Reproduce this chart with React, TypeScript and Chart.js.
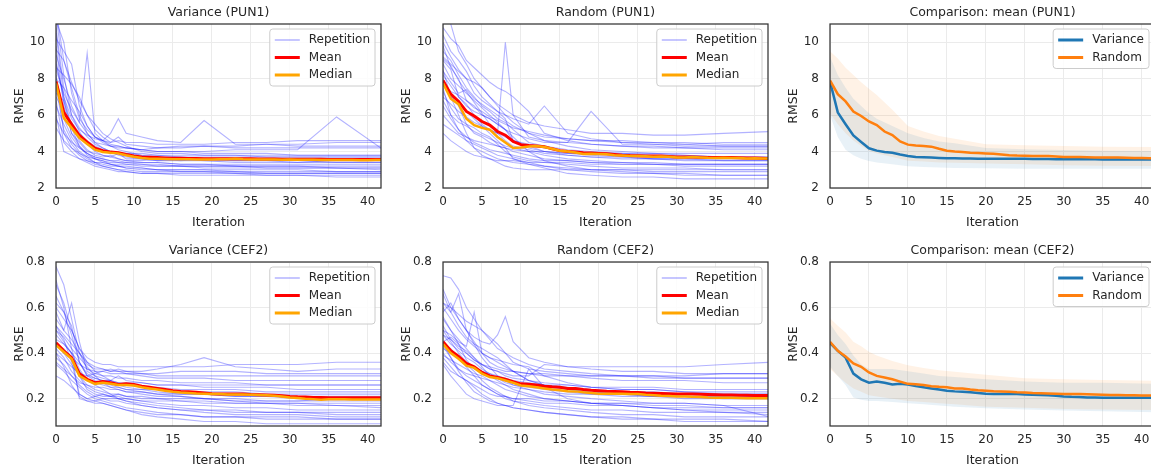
import React, { useEffect, useRef } from "react";
import { Chart, registerables } from "chart.js";

Chart.register(...registerables);

const FONT = '"DejaVu Sans", sans-serif';
const TEXT = "#262626";

const ITERATIONS = [0, 1, 2, 3, 4, 5, 6, 7, 8, 9, 10, 11, 12, 13, 14, 15, 16, 17, 18, 19, 20, 21, 22, 23, 24, 25, 26, 27, 28, 29, 30, 31, 32, 33, 34, 35, 36, 37, 38, 39, 40, 41, 42];
const REP_X = [0, 1, 2, 3, 4, 5, 6, 7, 8, 9, 11, 13, 16, 19, 23, 27, 31, 36, 42];
const BAND_X = [0, 1, 2, 3, 4, 5, 6, 8, 10, 12, 14, 16, 20, 25, 30, 35, 42];
const X_TICKS = [0, 5, 10, 15, 20, 25, 30, 35, 40];
const Y_TICKS_PUN1 = [2, 4, 6, 8, 10];
const Y_TICKS_CEF2 = [0.2, 0.4, 0.6, 0.8];

// ---------- means / medians ----------
const PUN1_VAR_MEAN = [7.85, 6.15, 5.5, 4.88, 4.52, 4.18, 4.05, 3.97, 3.93, 3.84, 3.76, 3.7, 3.69, 3.67, 3.65, 3.63, 3.63, 3.62, 3.62, 3.61, 3.61, 3.6, 3.61, 3.6, 3.6, 3.6, 3.59, 3.59, 3.59, 3.58, 3.58, 3.58, 3.58, 3.58, 3.58, 3.57, 3.57, 3.57, 3.57, 3.57, 3.56, 3.57, 3.57];
const PUN1_VAR_MEDIAN = [7.75, 5.85, 5.3, 4.75, 4.42, 4.1, 3.98, 3.93, 3.9, 3.8, 3.72, 3.65, 3.6, 3.6, 3.59, 3.58, 3.58, 3.58, 3.57, 3.57, 3.57, 3.58, 3.58, 3.6, 3.58, 3.57, 3.57, 3.56, 3.56, 3.55, 3.56, 3.55, 3.55, 3.55, 3.54, 3.53, 3.53, 3.53, 3.53, 3.52, 3.52, 3.53, 3.53];
const PUN1_RAND_MEAN = [7.9, 7.15, 6.75, 6.2, 5.95, 5.65, 5.45, 5.1, 4.9, 4.55, 4.38, 4.33, 4.3, 4.27, 4.15, 4.05, 4.0, 3.97, 3.93, 3.92, 3.9, 3.88, 3.84, 3.8, 3.78, 3.77, 3.76, 3.75, 3.75, 3.73, 3.7, 3.7, 3.7, 3.69, 3.68, 3.67, 3.67, 3.67, 3.66, 3.65, 3.64, 3.63, 3.62];
const PUN1_RAND_MEDIAN = [7.75, 6.9, 6.6, 5.8, 5.45, 5.3, 5.2, 4.8, 4.5, 4.2, 4.22, 4.28, 4.3, 4.25, 4.15, 4.05, 4.0, 3.95, 3.87, 3.88, 3.87, 3.85, 3.8, 3.78, 3.76, 3.75, 3.74, 3.72, 3.73, 3.72, 3.68, 3.68, 3.7, 3.68, 3.66, 3.65, 3.66, 3.65, 3.64, 3.62, 3.63, 3.62, 3.62];
const CEF2_VAR_MEAN = [0.445, 0.41, 0.38, 0.31, 0.285, 0.27, 0.275, 0.27, 0.262, 0.265, 0.262, 0.255, 0.25, 0.245, 0.24, 0.235, 0.232, 0.23, 0.228, 0.225, 0.222, 0.221, 0.22, 0.22, 0.22, 0.218, 0.217, 0.216, 0.215, 0.213, 0.21, 0.208, 0.207, 0.205, 0.205, 0.204, 0.204, 0.204, 0.204, 0.204, 0.204, 0.204, 0.204];
const CEF2_VAR_MEDIAN = [0.435, 0.405, 0.375, 0.3, 0.28, 0.265, 0.27, 0.265, 0.26, 0.26, 0.258, 0.25, 0.245, 0.24, 0.235, 0.23, 0.227, 0.225, 0.223, 0.222, 0.22, 0.22, 0.218, 0.218, 0.218, 0.217, 0.216, 0.215, 0.213, 0.21, 0.205, 0.203, 0.2, 0.198, 0.195, 0.197, 0.197, 0.197, 0.196, 0.196, 0.196, 0.196, 0.196];
const CEF2_RAND_MEAN = [0.45, 0.41, 0.385, 0.355, 0.34, 0.315, 0.3, 0.293, 0.285, 0.275, 0.265, 0.263, 0.26, 0.255, 0.252, 0.25, 0.245, 0.245, 0.24, 0.237, 0.235, 0.233, 0.232, 0.23, 0.228, 0.227, 0.225, 0.224, 0.223, 0.222, 0.221, 0.22, 0.22, 0.219, 0.218, 0.217, 0.216, 0.216, 0.215, 0.215, 0.214, 0.214, 0.214];
const CEF2_RAND_MEDIAN = [0.44, 0.4, 0.375, 0.345, 0.335, 0.31, 0.295, 0.29, 0.28, 0.27, 0.258, 0.255, 0.25, 0.245, 0.24, 0.237, 0.233, 0.232, 0.228, 0.225, 0.222, 0.222, 0.222, 0.222, 0.22, 0.22, 0.217, 0.215, 0.213, 0.212, 0.21, 0.21, 0.208, 0.207, 0.205, 0.204, 0.204, 0.204, 0.203, 0.202, 0.202, 0.202, 0.202];

// ---------- spread bands (comparison panels) ----------
const PUN1_VAR_UPPER = [9.2, 8.2, 7.5, 6.9, 6.5, 6.1, 5.8, 5.4, 5.0, 4.75, 4.55, 4.45, 4.2, 4.12, 4.08, 4.05, 4.03];
const PUN1_VAR_LOWER = [6.0, 4.8, 4.1, 3.8, 3.6, 3.48, 3.4, 3.3, 3.2, 3.15, 3.12, 3.1, 3.08, 3.06, 3.05, 3.05, 3.05];
const PUN1_RAND_UPPER = [9.5, 9.1, 8.6, 8.2, 7.8, 7.45, 7.1, 6.3, 5.4, 5.1, 4.85, 4.7, 4.4, 4.35, 4.3, 4.27, 4.25];
const PUN1_RAND_LOWER = [6.1, 5.5, 5.0, 4.6, 4.3, 4.05, 3.9, 3.7, 3.5, 3.45, 3.4, 3.38, 3.35, 3.3, 3.25, 3.22, 3.2];
const CEF2_VAR_UPPER = [0.53, 0.48, 0.44, 0.39, 0.35, 0.33, 0.33, 0.33, 0.32, 0.31, 0.3, 0.295, 0.285, 0.275, 0.27, 0.27, 0.265];
const CEF2_VAR_LOWER = [0.34, 0.3, 0.26, 0.205, 0.195, 0.19, 0.19, 0.185, 0.18, 0.175, 0.17, 0.165, 0.158, 0.152, 0.148, 0.145, 0.14];
const CEF2_RAND_UPPER = [0.553, 0.52, 0.49, 0.45, 0.43, 0.406, 0.39, 0.365, 0.347, 0.335, 0.325, 0.318, 0.305, 0.29, 0.285, 0.282, 0.278];
const CEF2_RAND_LOWER = [0.33, 0.3, 0.27, 0.245, 0.23, 0.215, 0.21, 0.2, 0.19, 0.185, 0.18, 0.175, 0.165, 0.16, 0.155, 0.152, 0.15];

// ---------- repetitions (values at REP_X) ----------
const PUN1_VAR_REPS = [
  [11.5, 8.2, 6.0, 5.1, 4.4, 4.0, 3.8, 3.7, 3.6, 3.5, 3.4, 3.4, 3.3, 3.3, 3.2, 3.2, 3.2, 3.1, 3.1],
  [9.8, 6.5, 5.0, 4.3, 3.9, 3.6, 3.4, 3.3, 3.2, 3.1, 3.0, 3.0, 2.9, 2.9, 2.9, 2.8, 2.8, 2.8, 2.8],
  [7.5, 5.2, 4.4, 3.9, 3.6, 3.4, 3.3, 3.2, 3.2, 3.1, 3.1, 3.0, 3.0, 3.0, 3.0, 3.0, 3.0, 2.9, 2.9],
  [10.2, 9.5, 8.8, 6.5, 5.4, 4.8, 4.5, 4.3, 4.2, 4.2, 4.1, 4.0, 4.0, 3.9, 3.9, 3.9, 3.8, 3.8, 3.8],
  [6.0, 4.0, 3.8, 3.6, 3.5, 3.4, 3.4, 3.3, 3.3, 3.3, 3.2, 3.2, 3.2, 3.2, 3.2, 3.1, 3.1, 3.1, 3.1],
  [8.8, 7.0, 5.8, 5.2, 4.9, 4.7, 4.6, 4.5, 4.6, 4.5, 4.5, 4.4, 4.4, 4.4, 4.5, 4.5, 4.6, 4.6, 4.6],
  [8.5, 7.2, 6.3, 5.6, 9.4, 5.0, 4.6, 4.3, 4.1, 4.0, 3.8, 3.7, 3.7, 3.6, 3.6, 3.6, 3.6, 3.5, 3.5],
  [5.3, 4.6, 4.2, 3.9, 3.7, 3.6, 3.5, 3.4, 3.4, 3.3, 3.3, 3.2, 3.2, 3.1, 3.1, 3.1, 3.1, 3.1, 3.0],
  [7.0, 6.2, 5.6, 5.0, 4.6, 4.3, 4.1, 4.0, 3.9, 3.9, 3.8, 3.8, 3.7, 3.7, 3.7, 3.7, 3.7, 3.7, 3.7],
  [10.8, 7.5, 6.0, 5.3, 4.8, 4.4, 4.2, 4.0, 3.8, 3.7, 3.6, 3.5, 3.5, 3.5, 3.4, 3.4, 3.4, 3.4, 3.4],
  [6.5, 5.5, 4.6, 4.0, 3.7, 3.4, 3.2, 3.1, 3.0, 2.9, 2.8, 2.8, 2.7, 2.7, 2.7, 2.7, 2.7, 2.6, 2.6],
  [8.0, 7.5, 6.8, 6.2, 5.4, 4.8, 4.6, 5.0, 5.8, 5.0, 4.8, 4.6, 4.5, 5.7, 4.4, 4.4, 4.3, 4.3, 4.3],
  [9.3, 8.0, 6.5, 5.6, 5.0, 4.5, 4.2, 4.0, 3.9, 3.9, 3.9, 3.8, 3.8, 3.8, 3.8, 3.8, 3.8, 3.8, 3.8],
  [7.8, 5.8, 4.8, 4.2, 3.9, 3.7, 3.6, 3.5, 3.5, 3.4, 3.4, 3.4, 3.3, 3.3, 3.3, 3.3, 3.3, 3.3, 3.3],
  [11.2, 10.0, 7.2, 5.8, 5.2, 4.8, 4.6, 4.4, 4.3, 4.2, 4.1, 4.0, 4.0, 4.0, 4.1, 4.1, 4.1, 5.9, 4.1],
  [6.8, 4.5, 4.0, 3.6, 3.4, 3.2, 3.1, 3.0, 2.9, 2.9, 2.8, 2.8, 2.8, 2.8, 2.8, 2.7, 2.7, 2.7, 2.7],
  [10.5, 7.0, 5.4, 4.6, 4.1, 3.8, 3.7, 3.8, 3.6, 3.5, 3.5, 3.6, 3.5, 3.6, 3.5, 3.5, 3.5, 3.4, 3.4],
  [8.2, 5.0, 4.2, 3.8, 3.5, 3.3, 3.2, 3.1, 3.0, 3.0, 2.9, 2.9, 2.9, 2.9, 2.8, 2.8, 2.8, 2.8, 2.8],
  [9.6, 9.0, 7.5, 6.0, 5.0, 4.5, 4.4, 4.3, 4.3, 4.2, 4.1, 4.2, 4.2, 4.3, 4.2, 4.2, 4.2, 4.2, 4.2],
  [7.2, 6.8, 5.0, 4.5, 4.0, 3.9, 3.8, 3.7, 3.9, 3.6, 3.6, 3.5, 3.6, 3.5, 3.5, 3.5, 3.4, 3.5, 3.5],
  [11.8, 9.0, 7.8, 6.8, 6.0, 5.2, 4.8, 4.5, 4.8, 4.4, 4.3, 4.2, 4.3, 4.3, 4.3, 4.4, 4.4, 4.5, 4.5],
  [5.8, 5.0, 4.5, 4.2, 3.9, 3.7, 3.6, 3.5, 3.4, 3.4, 3.3, 3.3, 3.2, 3.2, 3.2, 3.2, 3.2, 3.2, 3.2],
  [9.0, 6.8, 5.3, 4.3, 3.8, 3.6, 3.5, 3.3, 3.2, 3.2, 3.1, 3.0, 3.0, 3.0, 2.9, 2.9, 2.9, 2.9, 2.9],
  [8.6, 8.2, 7.7, 7.0, 6.0, 5.5, 5.0, 4.7, 4.5, 4.3, 4.0, 3.9, 3.9, 3.8, 3.8, 3.7, 3.7, 3.7, 3.7],
];
const PUN1_RAND_REPS = [
  [9.5, 9.0, 8.2, 7.5, 7.0, 6.5, 6.2, 5.8, 5.6, 5.2, 4.5, 4.3, 4.1, 4.0, 3.9, 3.8, 3.8, 3.7, 3.7],
  [8.0, 7.0, 6.5, 5.5, 5.0, 4.8, 4.5, 4.3, 4.2, 4.0, 3.8, 3.6, 3.5, 3.4, 3.3, 3.3, 3.2, 3.2, 3.2],
  [10.8, 10.2, 9.8, 9.0, 8.6, 8.2, 7.8, 7.5, 7.3, 7.0, 6.2, 5.0, 4.6, 4.4, 4.3, 4.2, 4.2, 4.1, 4.1],
  [6.5, 5.8, 5.2, 4.6, 4.2, 4.0, 3.8, 3.6, 3.5, 3.4, 3.3, 3.2, 3.1, 3.0, 3.0, 2.9, 2.9, 2.9, 2.9],
  [9.0, 8.5, 7.0, 6.6, 6.0, 5.5, 5.2, 5.0, 10.0, 6.0, 4.8, 4.6, 4.5, 4.4, 4.3, 4.3, 4.2, 4.2, 4.2],
  [7.5, 6.0, 5.2, 4.8, 4.5, 4.3, 4.1, 4.0, 3.9, 3.8, 3.6, 3.5, 3.5, 3.4, 3.4, 3.4, 3.3, 3.3, 3.3],
  [8.8, 8.0, 7.6, 7.2, 6.8, 6.4, 6.0, 5.6, 5.2, 4.8, 4.0, 3.5, 3.2, 3.0, 2.9, 2.8, 2.8, 2.7, 2.7],
  [5.0, 4.6, 4.3, 4.0, 3.8, 3.7, 3.6, 3.5, 3.5, 3.5, 3.4, 3.4, 3.4, 3.3, 3.3, 3.3, 3.3, 3.3, 3.3],
  [10.0, 9.2, 8.5, 8.0, 7.2, 6.8, 6.5, 6.2, 6.0, 5.8, 5.5, 6.5, 5.0, 4.7, 4.5, 4.4, 4.3, 4.3, 4.3],
  [7.0, 6.6, 6.2, 5.9, 5.6, 5.4, 5.2, 5.0, 4.8, 4.6, 4.4, 4.2, 4.0, 3.9, 3.8, 3.8, 3.7, 3.7, 3.7],
  [8.5, 7.0, 6.0, 5.0, 4.2, 3.8, 3.6, 3.4, 3.2, 3.1, 3.0, 3.0, 3.0, 3.0, 3.0, 3.0, 3.0, 3.0, 3.0],
  [9.2, 8.8, 8.4, 8.0, 7.8, 7.5, 7.0, 6.6, 6.3, 6.0, 5.6, 5.4, 5.2, 5.0, 5.0, 4.9, 4.9, 5.0, 5.1],
  [6.0, 5.5, 5.0, 4.8, 4.6, 4.5, 4.4, 4.3, 4.2, 4.1, 4.0, 4.0, 3.9, 3.9, 3.9, 3.9, 3.9, 3.9, 3.9],
  [11.5, 11.0, 9.5, 8.8, 8.0, 7.5, 7.0, 6.5, 6.0, 5.6, 5.0, 4.6, 4.3, 4.1, 4.0, 3.9, 3.8, 3.7, 3.6],
  [7.8, 7.0, 6.8, 6.2, 5.8, 5.4, 5.0, 4.6, 4.2, 3.6, 3.3, 3.1, 2.8, 2.7, 2.6, 2.6, 2.5, 2.5, 2.5],
  [8.2, 7.6, 7.0, 6.5, 6.2, 6.0, 5.8, 5.5, 5.2, 5.0, 4.7, 4.5, 4.5, 6.2, 4.4, 4.4, 4.4, 4.5, 4.5],
  [9.8, 8.6, 8.0, 6.8, 6.5, 6.0, 5.8, 5.5, 5.2, 4.6, 4.3, 4.0, 3.8, 3.7, 3.6, 3.6, 3.5, 3.5, 3.5],
  [7.3, 6.4, 5.8, 5.5, 5.3, 5.0, 4.8, 4.4, 4.0, 3.7, 3.5, 3.4, 3.3, 3.2, 3.1, 3.1, 3.1, 3.0, 3.0],
  [10.4, 9.5, 9.0, 8.4, 7.6, 7.0, 6.6, 6.2, 5.8, 4.6, 4.2, 4.0, 3.9, 3.8, 3.7, 3.6, 3.6, 3.5, 3.5],
  [6.8, 6.0, 5.6, 5.4, 5.1, 4.9, 4.7, 4.5, 4.3, 4.2, 4.0, 3.8, 3.6, 3.5, 3.4, 3.3, 3.3, 3.3, 3.3],
  [8.4, 7.8, 7.2, 7.4, 6.9, 6.6, 6.3, 6.0, 5.7, 5.4, 5.0, 4.8, 4.7, 4.6, 4.6, 4.5, 4.5, 4.4, 4.4],
  [5.5, 5.2, 4.9, 4.6, 4.4, 4.2, 4.0, 3.8, 3.7, 3.6, 3.4, 3.2, 3.0, 2.9, 2.8, 2.8, 2.7, 2.7, 2.7],
  [9.1, 8.7, 7.9, 7.3, 6.7, 6.1, 5.5, 5.0, 4.6, 4.3, 4.1, 3.9, 3.8, 3.7, 3.7, 3.6, 3.6, 3.6, 3.6],
  [7.6, 7.3, 7.1, 6.8, 6.4, 6.2, 5.9, 5.7, 5.5, 5.3, 5.1, 4.9, 4.7, 4.6, 4.5, 4.5, 4.4, 4.3, 4.3],
];
const CEF2_VAR_REPS = [
  [0.78, 0.7, 0.55, 0.4, 0.33, 0.31, 0.3, 0.3, 0.29, 0.29, 0.28, 0.28, 0.27, 0.27, 0.27, 0.26, 0.26, 0.26, 0.26],
  [0.5, 0.45, 0.4, 0.2, 0.19, 0.19, 0.2, 0.2, 0.2, 0.19, 0.18, 0.17, 0.16, 0.15, 0.15, 0.14, 0.14, 0.14, 0.14],
  [0.42, 0.38, 0.32, 0.28, 0.25, 0.23, 0.22, 0.21, 0.21, 0.2, 0.19, 0.18, 0.17, 0.17, 0.16, 0.16, 0.15, 0.15, 0.15],
  [0.6, 0.55, 0.5, 0.42, 0.38, 0.36, 0.35, 0.35, 0.34, 0.34, 0.34, 0.34, 0.34, 0.34, 0.35, 0.35, 0.35, 0.36, 0.36],
  [0.35, 0.32, 0.28, 0.25, 0.22, 0.2, 0.19, 0.18, 0.17, 0.16, 0.15, 0.14, 0.13, 0.12, 0.12, 0.11, 0.11, 0.11, 0.11],
  [0.55, 0.5, 0.62, 0.45, 0.32, 0.3, 0.29, 0.28, 0.3, 0.28, 0.27, 0.26, 0.26, 0.25, 0.25, 0.25, 0.24, 0.24, 0.24],
  [0.45, 0.4, 0.38, 0.35, 0.33, 0.32, 0.32, 0.31, 0.31, 0.31, 0.31, 0.3, 0.3, 0.3, 0.3, 0.3, 0.3, 0.3, 0.3],
  [0.4, 0.34, 0.26, 0.21, 0.19, 0.18, 0.18, 0.17, 0.16, 0.15, 0.13, 0.12, 0.11, 0.1, 0.1, 0.09, 0.09, 0.09, 0.09],
  [0.7, 0.62, 0.5, 0.42, 0.36, 0.32, 0.3, 0.28, 0.26, 0.25, 0.24, 0.23, 0.22, 0.22, 0.21, 0.21, 0.2, 0.2, 0.2],
  [0.38, 0.35, 0.3, 0.27, 0.26, 0.25, 0.25, 0.24, 0.24, 0.23, 0.23, 0.22, 0.22, 0.22, 0.21, 0.21, 0.21, 0.21, 0.21],
  [0.52, 0.48, 0.44, 0.4, 0.36, 0.34, 0.33, 0.32, 0.33, 0.32, 0.32, 0.33, 0.35, 0.38, 0.34, 0.33, 0.32, 0.33, 0.33],
  [0.3, 0.28, 0.25, 0.22, 0.2, 0.19, 0.18, 0.17, 0.16, 0.15, 0.14, 0.13, 0.13, 0.12, 0.12, 0.12, 0.12, 0.11, 0.11],
  [0.48, 0.44, 0.4, 0.36, 0.3, 0.28, 0.27, 0.26, 0.25, 0.24, 0.23, 0.22, 0.21, 0.2, 0.19, 0.18, 0.17, 0.17, 0.16],
  [0.65, 0.58, 0.52, 0.36, 0.31, 0.29, 0.28, 0.28, 0.27, 0.27, 0.27, 0.26, 0.26, 0.26, 0.26, 0.26, 0.26, 0.26, 0.26],
  [0.44, 0.4, 0.35, 0.3, 0.24, 0.22, 0.21, 0.21, 0.2, 0.2, 0.19, 0.19, 0.19, 0.18, 0.18, 0.18, 0.18, 0.18, 0.18],
  [0.58, 0.5, 0.46, 0.4, 0.35, 0.33, 0.33, 0.32, 0.32, 0.31, 0.3, 0.29, 0.29, 0.29, 0.28, 0.28, 0.28, 0.28, 0.28],
  [0.52, 0.46, 0.36, 0.22, 0.2, 0.21, 0.22, 0.21, 0.22, 0.21, 0.2, 0.2, 0.19, 0.19, 0.18, 0.18, 0.18, 0.17, 0.17],
  [0.62, 0.58, 0.48, 0.36, 0.3, 0.29, 0.28, 0.28, 0.27, 0.26, 0.25, 0.25, 0.24, 0.24, 0.24, 0.23, 0.23, 0.23, 0.23],
  [0.46, 0.44, 0.4, 0.33, 0.28, 0.26, 0.24, 0.22, 0.2, 0.19, 0.17, 0.16, 0.15, 0.14, 0.13, 0.13, 0.13, 0.12, 0.12],
  [0.4, 0.37, 0.34, 0.31, 0.3, 0.31, 0.32, 0.33, 0.32, 0.32, 0.31, 0.31, 0.32, 0.32, 0.32, 0.31, 0.31, 0.31, 0.31],
  [0.72, 0.6, 0.42, 0.3, 0.26, 0.24, 0.23, 0.22, 0.22, 0.21, 0.21, 0.2, 0.2, 0.2, 0.19, 0.19, 0.19, 0.19, 0.19],
  [0.36, 0.33, 0.3, 0.26, 0.23, 0.21, 0.2, 0.19, 0.19, 0.18, 0.17, 0.16, 0.15, 0.15, 0.14, 0.14, 0.14, 0.13, 0.13],
  [0.5, 0.47, 0.42, 0.38, 0.34, 0.3, 0.27, 0.25, 0.24, 0.23, 0.22, 0.21, 0.21, 0.2, 0.2, 0.19, 0.19, 0.2, 0.2],
  [0.44, 0.42, 0.38, 0.32, 0.28, 0.27, 0.26, 0.25, 0.25, 0.24, 0.24, 0.24, 0.23, 0.23, 0.23, 0.22, 0.22, 0.22, 0.22],
];
const CEF2_RAND_REPS = [
  [0.74, 0.73, 0.68, 0.6, 0.55, 0.5, 0.46, 0.42, 0.4, 0.38, 0.35, 0.33, 0.32, 0.31, 0.3, 0.3, 0.29, 0.29, 0.29],
  [0.45, 0.38, 0.33, 0.3, 0.28, 0.26, 0.24, 0.22, 0.2, 0.19, 0.18, 0.17, 0.16, 0.15, 0.15, 0.14, 0.14, 0.14, 0.14],
  [0.62, 0.58, 0.66, 0.5, 0.45, 0.4, 0.36, 0.34, 0.33, 0.32, 0.31, 0.3, 0.3, 0.29, 0.28, 0.28, 0.28, 0.27, 0.27],
  [0.4, 0.36, 0.33, 0.31, 0.3, 0.29, 0.28, 0.27, 0.26, 0.25, 0.24, 0.23, 0.22, 0.22, 0.21, 0.21, 0.21, 0.21, 0.21],
  [0.55, 0.5, 0.46, 0.42, 0.38, 0.35, 0.33, 0.32, 0.31, 0.3, 0.3, 0.35, 0.34, 0.34, 0.34, 0.34, 0.34, 0.35, 0.36],
  [0.35, 0.3, 0.26, 0.22, 0.2, 0.19, 0.18, 0.17, 0.17, 0.16, 0.15, 0.14, 0.13, 0.12, 0.12, 0.11, 0.11, 0.11, 0.1],
  [0.5, 0.48, 0.45, 0.43, 0.58, 0.4, 0.38, 0.36, 0.34, 0.32, 0.28, 0.26, 0.25, 0.24, 0.23, 0.23, 0.22, 0.22, 0.22],
  [0.6, 0.55, 0.5, 0.46, 0.43, 0.4, 0.38, 0.37, 0.36, 0.35, 0.34, 0.3, 0.27, 0.25, 0.24, 0.24, 0.23, 0.23, 0.23],
  [0.42, 0.4, 0.38, 0.34, 0.3, 0.26, 0.24, 0.22, 0.21, 0.2, 0.19, 0.18, 0.18, 0.17, 0.17, 0.16, 0.16, 0.16, 0.16],
  [0.68, 0.6, 0.55, 0.5, 0.47, 0.45, 0.44, 0.48, 0.56, 0.45, 0.38, 0.36, 0.34, 0.33, 0.32, 0.32, 0.31, 0.31, 0.31],
  [0.38, 0.34, 0.3, 0.28, 0.26, 0.24, 0.22, 0.21, 0.21, 0.2, 0.2, 0.19, 0.19, 0.18, 0.18, 0.18, 0.18, 0.17, 0.12],
  [0.48, 0.44, 0.41, 0.38, 0.36, 0.33, 0.31, 0.29, 0.27, 0.26, 0.25, 0.24, 0.23, 0.22, 0.22, 0.21, 0.21, 0.2, 0.2],
  [0.58, 0.62, 0.55, 0.5, 0.44, 0.38, 0.34, 0.3, 0.28, 0.26, 0.24, 0.22, 0.21, 0.2, 0.19, 0.18, 0.18, 0.17, 0.17],
  [0.36, 0.32, 0.3, 0.28, 0.25, 0.22, 0.2, 0.18, 0.17, 0.17, 0.33, 0.25, 0.2, 0.18, 0.17, 0.16, 0.15, 0.14, 0.13],
  [0.52, 0.46, 0.42, 0.4, 0.37, 0.35, 0.34, 0.33, 0.32, 0.32, 0.31, 0.31, 0.3, 0.3, 0.3, 0.29, 0.29, 0.29, 0.29],
  [0.44, 0.42, 0.38, 0.35, 0.32, 0.28, 0.25, 0.23, 0.21, 0.19, 0.17, 0.16, 0.15, 0.14, 0.13, 0.13, 0.12, 0.12, 0.12],
  [0.66, 0.58, 0.52, 0.47, 0.44, 0.42, 0.4, 0.38, 0.35, 0.32, 0.28, 0.26, 0.24, 0.23, 0.22, 0.21, 0.2, 0.2, 0.2],
  [0.48, 0.46, 0.43, 0.41, 0.38, 0.34, 0.3, 0.28, 0.26, 0.24, 0.22, 0.2, 0.19, 0.18, 0.18, 0.17, 0.17, 0.16, 0.16],
  [0.56, 0.5, 0.44, 0.37, 0.33, 0.32, 0.31, 0.3, 0.29, 0.28, 0.27, 0.26, 0.26, 0.25, 0.25, 0.25, 0.24, 0.24, 0.24],
  [0.39, 0.37, 0.35, 0.33, 0.31, 0.3, 0.28, 0.26, 0.24, 0.23, 0.21, 0.2, 0.19, 0.18, 0.17, 0.16, 0.15, 0.15, 0.15],
  [0.62, 0.6, 0.57, 0.54, 0.52, 0.5, 0.47, 0.44, 0.4, 0.36, 0.33, 0.32, 0.31, 0.3, 0.3, 0.3, 0.3, 0.31, 0.31],
  [0.43, 0.38, 0.32, 0.27, 0.23, 0.21, 0.19, 0.18, 0.17, 0.16, 0.15, 0.14, 0.13, 0.12, 0.11, 0.11, 0.1, 0.1, 0.1],
  [0.5, 0.45, 0.4, 0.36, 0.34, 0.32, 0.3, 0.29, 0.28, 0.27, 0.26, 0.25, 0.24, 0.23, 0.22, 0.22, 0.21, 0.21, 0.21],
  [0.45, 0.47, 0.44, 0.4, 0.37, 0.35, 0.33, 0.32, 0.3, 0.29, 0.28, 0.27, 0.26, 0.25, 0.24, 0.24, 0.23, 0.22, 0.22],
];

const REP_COLOR = "rgba(0,0,255,0.3)";
const MEAN_COLOR = "#ff0000";
const MEDIAN_COLOR = "#ffa500";
const VAR_COLOR = "#1f77b4";
const RAND_COLOR = "#ff7f0e";

const pts = (xs: number[], ys: number[]) => xs.map((x, i) => ({ x, y: ys[i] }));

const decorPlugin = {
  id: "decor",
  afterDraw(chart: any, _args: any, opts: any) {
    const { ctx, chartArea: a } = chart;
    ctx.save();
    ctx.strokeStyle = "#333333";
    ctx.lineWidth = 1.25;
    ctx.strokeRect(a.left, a.top, a.right - a.left, a.bottom - a.top);
    ctx.fillStyle = TEXT;
    ctx.font = `12.5px ${FONT}`;
    ctx.textAlign = "center";
    ctx.textBaseline = "alphabetic";
    const cx = (a.left + a.right) / 2;
    ctx.fillText(opts.title, cx, a.top - 8);
    ctx.fillText("Iteration", cx, a.bottom + 38);
    ctx.save();
    ctx.translate(a.left - 33, (a.top + a.bottom) / 2);
    ctx.rotate(-Math.PI / 2);
    ctx.fillText("RMSE", 0, 0);
    ctx.restore();
    // legend
    const items = opts.legend as { label: string; color: string; width: number }[];
    ctx.font = `12px ${FONT}`;
    const tw = Math.max(...items.map((it) => ctx.measureText(it.label).width));
    const w = 5 + 25 + 9 + tw + 5;
    const h = items.length * 17.5 + 4.5;
    const x0 = a.right - 6 - w;
    const y0 = a.top + 5;
    ctx.beginPath();
    ctx.roundRect(x0, y0, w, h, 3);
    ctx.fillStyle = "rgba(255,255,255,0.85)";
    ctx.fill();
    ctx.strokeStyle = "#cccccc";
    ctx.lineWidth = 1;
    ctx.stroke();
    items.forEach((it, k) => {
      const cy = y0 + 11 + k * 17.5;
      ctx.beginPath();
      ctx.moveTo(x0 + 5, cy);
      ctx.lineTo(x0 + 30, cy);
      ctx.strokeStyle = it.color;
      ctx.lineWidth = it.width;
      ctx.stroke();
      ctx.fillStyle = TEXT;
      ctx.textAlign = "left";
      ctx.textBaseline = "middle";
      ctx.fillText(it.label, x0 + 39, cy);
    });
    ctx.restore();
  },
};

type PanelDef = {
  title: string;
  col: number;
  row: number;
  kind: "reps" | "cmp";
  reps?: number[][];
  mean?: number[];
  median?: number[];
  varMean?: number[];
  randMean?: number[];
  varUpper?: number[];
  varLower?: number[];
  randUpper?: number[];
  randLower?: number[];
  yMin: number;
  yMax: number;
  yTicks: number[];
  decimals: number;
};

const PANELS: PanelDef[] = [
  { title: "Variance (PUN1)", col: 0, row: 0, kind: "reps", reps: PUN1_VAR_REPS, mean: PUN1_VAR_MEAN, median: PUN1_VAR_MEDIAN, yMin: 2, yMax: 11, yTicks: Y_TICKS_PUN1, decimals: 0 },
  { title: "Random (PUN1)", col: 1, row: 0, kind: "reps", reps: PUN1_RAND_REPS, mean: PUN1_RAND_MEAN, median: PUN1_RAND_MEDIAN, yMin: 2, yMax: 11, yTicks: Y_TICKS_PUN1, decimals: 0 },
  { title: "Comparison: mean (PUN1)", col: 2, row: 0, kind: "cmp", varMean: PUN1_VAR_MEAN, randMean: PUN1_RAND_MEAN, varUpper: PUN1_VAR_UPPER, varLower: PUN1_VAR_LOWER, randUpper: PUN1_RAND_UPPER, randLower: PUN1_RAND_LOWER, yMin: 2, yMax: 11, yTicks: Y_TICKS_PUN1, decimals: 0 },
  { title: "Variance (CEF2)", col: 0, row: 1, kind: "reps", reps: CEF2_VAR_REPS, mean: CEF2_VAR_MEAN, median: CEF2_VAR_MEDIAN, yMin: 0.08, yMax: 0.8, yTicks: Y_TICKS_CEF2, decimals: 1 },
  { title: "Random (CEF2)", col: 1, row: 1, kind: "reps", reps: CEF2_RAND_REPS, mean: CEF2_RAND_MEAN, median: CEF2_RAND_MEDIAN, yMin: 0.08, yMax: 0.8, yTicks: Y_TICKS_CEF2, decimals: 1 },
  { title: "Comparison: mean (CEF2)", col: 2, row: 1, kind: "cmp", varMean: CEF2_VAR_MEAN, randMean: CEF2_RAND_MEAN, varUpper: CEF2_VAR_UPPER, varLower: CEF2_VAR_LOWER, randUpper: CEF2_RAND_UPPER, randLower: CEF2_RAND_LOWER, yMin: 0.08, yMax: 0.8, yTicks: Y_TICKS_CEF2, decimals: 1 },
];

const COL_LEFT = [0, 387, 774];
const ROW_TOP = [0, 238];
const CW = 385;
const CH = 235;

function buildDatasets(p: PanelDef) {
  const line = { pointRadius: 0, tension: 0, fill: false };
  if (p.kind === "reps") {
    const ds: any[] = [
      { ...line, data: pts(ITERATIONS, p.median!), borderColor: MEDIAN_COLOR, borderWidth: 2.5 },
      { ...line, data: pts(ITERATIONS, p.mean!), borderColor: MEAN_COLOR, borderWidth: 3 },
    ];
    p.reps!.forEach((r) => ds.push({ ...line, data: pts(REP_X, r), borderColor: REP_COLOR, borderWidth: 1.1 }));
    return ds;
  }
  return [
    { ...line, data: pts(ITERATIONS, p.randMean!), borderColor: RAND_COLOR, borderWidth: 2.5 },
    { ...line, data: pts(ITERATIONS, p.varMean!), borderColor: VAR_COLOR, borderWidth: 2.5 },
    { ...line, data: pts(BAND_X, p.varUpper!), borderColor: "transparent", borderWidth: 0 },
    { ...line, data: pts(BAND_X, p.varLower!), borderColor: "transparent", borderWidth: 0, fill: "-1", backgroundColor: "rgba(31,119,180,0.1)" },
    { ...line, data: pts(BAND_X, p.randUpper!), borderColor: "transparent", borderWidth: 0 },
    { ...line, data: pts(BAND_X, p.randLower!), borderColor: "transparent", borderWidth: 0, fill: "-1", backgroundColor: "rgba(255,127,14,0.1)" },
  ];
}

function PanelChart({ p }: { p: PanelDef }) {
  const ref = useRef<HTMLCanvasElement | null>(null);
  useEffect(() => {
    if (!ref.current) return;
    const legend =
      p.kind === "reps"
        ? [
            { label: "Repetition", color: "rgba(0,0,255,0.3)", width: 1.5 },
            { label: "Mean", color: MEAN_COLOR, width: 3 },
            { label: "Median", color: MEDIAN_COLOR, width: 3 },
          ]
        : [
            { label: "Variance", color: VAR_COLOR, width: 3 },
            { label: "Random", color: RAND_COLOR, width: 3 },
          ];
    const chart = new Chart(ref.current, {
      type: "line",
      data: { datasets: buildDatasets(p) },
      options: {
        animation: false,
        responsive: false,
        events: [],
        layout: { padding: { top: 24, right: 4, left: 0, bottom: 0 } },
        plugins: {
          legend: { display: false },
          tooltip: { enabled: false },
          decor: { title: p.title, legend },
        } as any,
        scales: {
          x: {
            type: "linear",
            min: 0,
            max: 41.7,
            afterBuildTicks: (s: any) => {
              s.ticks = X_TICKS.map((v) => ({ value: v }));
            },
            afterFit: (s: any) => {
              s.height = 47;
            },
            grid: { color: "#ebebeb", lineWidth: 1, drawTicks: false },
            border: { display: false },
            ticks: { padding: 7, color: TEXT, font: { family: FONT, size: 12 }, maxRotation: 0, autoSkip: false },
          },
          y: {
            type: "linear",
            min: p.yMin,
            max: p.yMax,
            afterBuildTicks: (s: any) => {
              s.ticks = p.yTicks.map((v) => ({ value: v }));
            },
            afterFit: (s: any) => {
              s.width = 56;
            },
            grid: { color: "#ebebeb", lineWidth: 1, drawTicks: false },
            border: { display: false },
            ticks: {
              padding: 11,
              color: TEXT,
              font: { family: FONT, size: 12 },
              callback: (v: any) => Number(v).toFixed(p.decimals),
            },
          },
        },
      },
      plugins: [decorPlugin],
    });
    return () => chart.destroy();
  }, [p]);
  return (
    <canvas
      ref={ref}
      width={CW}
      height={CH}
      style={{ position: "absolute", left: COL_LEFT[p.col], top: ROW_TOP[p.row], width: CW, height: CH }}
    />
  );
}

export default function App() {
  return (
    <div style={{ position: "fixed", left: 0, top: 0, width: 1151, height: 470, overflow: "hidden", background: "#ffffff" }}>
      {PANELS.map((p) => (
        <PanelChart key={p.title} p={p} />
      ))}
    </div>
  );
}
